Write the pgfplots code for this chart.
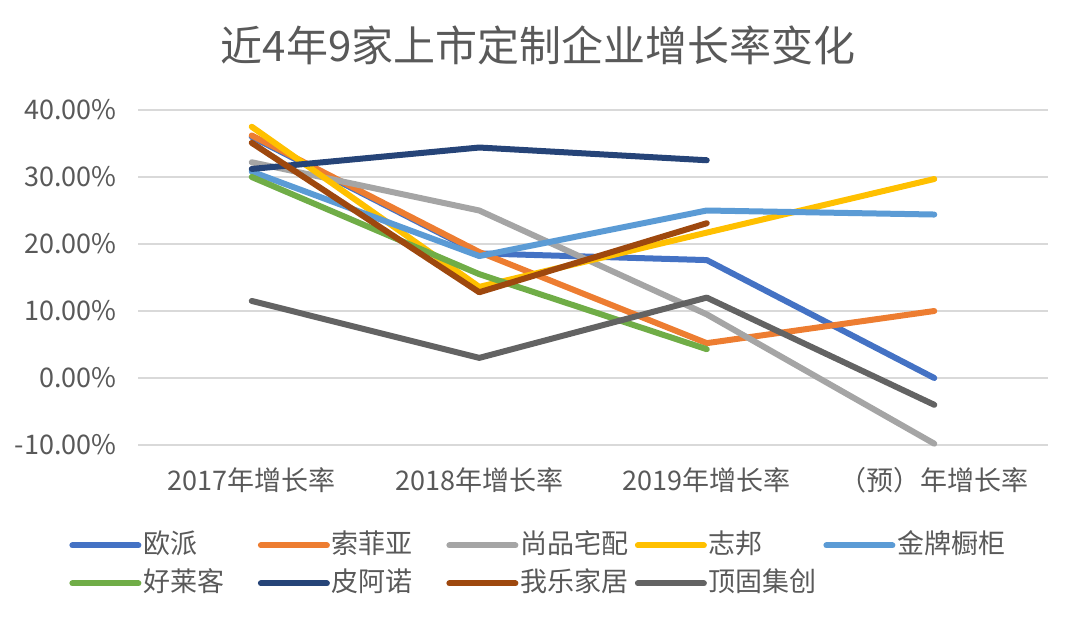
\documentclass[border=0pt]{standalone}
\usepackage{pgfplots}
\pgfplotsset{compat=1.18}
\usepackage{fontspec}
\setmainfont{Noto Sans CJK SC}
\definecolor{txt}{HTML}{595959}
\definecolor{gridc}{HTML}{D9D9D9}
\definecolor{c1}{HTML}{4472C4}
\definecolor{c2}{HTML}{ED7D31}
\definecolor{c3}{HTML}{A5A5A5}
\definecolor{c4}{HTML}{FFC000}
\definecolor{c5}{HTML}{5B9BD5}
\definecolor{c6}{HTML}{70AD47}
\definecolor{c7}{HTML}{264478}
\definecolor{c8}{HTML}{9E480E}
\definecolor{c9}{HTML}{636363}
\newcommand{\lb}[1]{\makebox[57.25pt][l]{#1}}
\begin{document}
\begin{tikzpicture}[x=1pt,y=1pt]
\useasboundingbox (0,0) rectangle (540,313.5);
\node[text=txt, font=\fontsize{21}{25}\selectfont, inner sep=0pt] at (269,291) {近4年9家上市定制企业增长率变化};
\begin{axis}[
  at={(69pt,91pt)}, anchor=south west,
  scale only axis, width=455pt, height=167.5pt,
  xmin=-0.5, xmax=3.5, ymin=-10, ymax=40,
  clip=false,
  axis line style={draw=none},
  major tick length=0pt,
  ymajorgrids, grid style={gridc, line width=0.9pt},
  ytick={-10,0,10,20,30,40},
  yticklabels={-10.00\%,0.00\%,10.00\%,20.00\%,30.00\%,40.00\%},
  xtick={0,1,2,3},
  xticklabels={2017年增长率,2018年增长率,2019年增长率,（预）年增长率},
  tick label style={font=\fontsize{13.5}{16}\selectfont, text=txt},
  yticklabel style={anchor=east, inner xsep=0pt, xshift=-10.5pt},
  xticklabel style={anchor=center, yshift=-17.5pt},
  every axis plot/.append style={line width=3pt, line cap=round, line join=round, mark=none},
  legend columns=5,
  legend image code/.code={\draw[line width=3pt, line cap=round] (0pt,0pt) -- (33pt,0pt);},
  legend style={at={(0,0)}, anchor=north west, xshift=-34.5pt, yshift=-43pt,
    draw=none, fill=none, inner sep=0pt, row sep=5pt,
    nodes={inner sep=0pt, text=txt, font=\fontsize{13.5}{16}\selectfont, text height=11pt, text depth=3pt},
    /tikz/every odd column/.append style={column sep=1pt}},
]
\addplot[c1] coordinates {(0,36.0) (1,18.6) (2,17.6) (3,0.0)};
\addlegendentry{\lb{欧派}}
\addplot[c2] coordinates {(0,36.2) (1,18.8) (2,5.2) (3,10.0)};
\addlegendentry{\lb{索菲亚}}
\addplot[c3] coordinates {(0,32.2) (1,25.0) (2,9.5) (3,-9.8)};
\addlegendentry{\lb{尚品宅配}}
\addplot[c4] coordinates {(0,37.5) (1,13.6) (2,21.7) (3,29.7)};
\addlegendentry{\lb{志邦}}
\addplot[c5] coordinates {(0,30.8) (1,18.2) (2,25.0) (3,24.4)};
\addlegendentry{\lb{金牌橱柜}}
\addplot[c6] coordinates {(0,30.0) (1,15.5) (2,4.3)};
\addlegendentry{\lb{好莱客}}
\addplot[c7] coordinates {(0,31.2) (1,34.4) (2,32.5)};
\addlegendentry{\lb{皮阿诺}}
\addplot[c8] coordinates {(0,35.1) (1,12.8) (2,23.1)};
\addlegendentry{\lb{我乐家居}}
\addplot[c9] coordinates {(0,11.5) (1,3.0) (2,12.0) (3,-4.0)};
\addlegendentry{\lb{顶固集创}}
\end{axis}
\end{tikzpicture}
\end{document}
